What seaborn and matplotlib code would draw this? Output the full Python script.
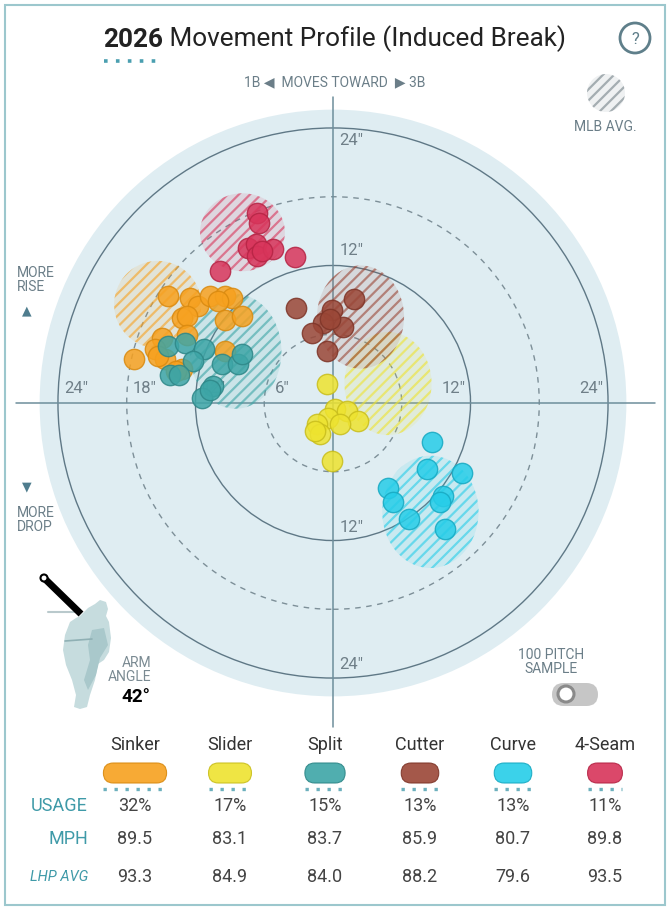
import matplotlib
matplotlib.use("Agg")
import matplotlib.pyplot as plt
from matplotlib.patches import Circle, Ellipse, FancyBboxPatch, Rectangle, Polygon
from matplotlib.colors import to_rgb
import pandas as pd
import seaborn as sns

sns.set_theme(style="white")
plt.rcParams['font.family'] = ['Roboto', 'DejaVu Sans']
plt.rcParams['hatch.linewidth'] = 1.6

# ---- data (inches of induced break; x = horizontal, y = vertical) ----
pitches = ["Sinker", "Slider", "Split", "Cutter", "Curve", "4-Seam"]
colors = ["#F7A11F", "#EEE32F", "#3DA5A6", "#9A4636", "#26CDE8", "#D8345A"]
edges = ["#D98A10", "#C9BE1C", "#2E8788", "#7E3528", "#17A9C2", "#B52444"]
usage = [32, 17, 15, 13, 13, 11]
mph = [89.5, 83.1, 83.7, 85.9, 80.7, 89.8]
lhp_avg = [93.3, 84.9, 84.0, 88.2, 79.6, 93.5]

sinker_x = [-14.4, -12.5, -11.8, -10.7, -9.4, -8.8, -10.0, -13.2, -12.7, -9.4,
            -7.9, -14.9, -12.7, -15.5, -14.7, -9.4, -13.2, -17.4, -15.3, -13.7]
sinker_y = [9.3, 9.2, 8.5, 9.3, 9.3, 9.2, 8.9, 7.4, 7.6, 7.2,
            7.6, 5.7, 5.9, 4.7, 3.8, 4.5, 3.0, 3.8, 4.1, 2.8]
split_x = [-14.4, -12.9, -11.3, -12.2, -9.7, -8.3, -7.9, -14.2, -13.4, -10.5, -11.4, -10.7]
split_y = [5.0, 5.2, 4.7, 3.7, 3.4, 3.4, 4.3, 2.4, 2.4, 1.5, 0.4, 1.1]
fourseam_x = [-6.6, -6.5, -7.4, -6.7, -6.6, -5.2, -3.3, -9.9, -6.2]
fourseam_y = [16.6, 15.7, 13.5, 13.9, 12.8, 13.4, 12.7, 11.5, 13.3]
cutter_x = [-3.2, 1.8, -0.1, -0.9, -1.8, 0.9, -0.5, -0.3]
cutter_y = [8.3, 9.1, 8.1, 7.0, 6.1, 6.6, 4.5, 7.3]
slider_x = [-0.5, 0.2, 1.2, 2.2, -0.4, 0.6, -1.4, -1.1, -0.1, -1.6]
slider_y = [1.7, -0.5, -0.7, -1.6, -1.3, -1.8, -1.8, -2.7, -5.1, -2.4]
curve_x = [8.6, 8.2, 11.3, 4.8, 5.2, 9.6, 9.3, 6.6, 9.8]
curve_y = [-3.4, -5.8, -6.1, -7.4, -8.6, -8.1, -8.6, -10.1, -11.0]

# MLB average per pitch (same order as pitches): centre and half-spread
mlb_x = [-15.3, 4.8, -8.5, 2.4, 8.5, -7.9]
mlb_y = [8.6, 1.7, 4.5, 7.5, -9.5, 14.9]
mlb_wx = [3.8, 3.8, 4.0, 3.8, 4.2, 3.7]
mlb_wy = [3.8, 4.5, 5.0, 4.5, 4.9, 3.4]

rings = [6, 12, 18, 24]

# ---- figure / coordinate helpers ----
W, H = 670, 909
CX, CY = 333, 403
PPI = 11.46  # pixels per inch of break


def P(x, y):
    return ((x - CX) / PPI, (CY - y) / PPI)


fig = plt.figure(figsize=(W / 100, H / 100), dpi=100)
ax = fig.add_axes([0, 0, 1, 1])
ax.set_axis_off()

grey = "#6b7e88"
teal = "#3f9aa8"

# frame
ax.add_patch(Rectangle(P(5, 905), 660 / PPI, 900 / PPI, fill=False,
                       edgecolor="#9cc7cd", lw=1.5, zorder=1))

# background disk and rings
ax.add_patch(Circle((0, 0), 25.6, color="#dfedf2", lw=0, zorder=1))
for r in rings:
    ls = "-" if r % 12 == 0 else (0, (4, 4))
    c = "#5f7886" if r % 12 == 0 else "#7d8f98"
    ax.add_patch(Circle((0, 0), r, fill=False, edgecolor=c, lw=1.0, ls=ls, zorder=2))

# axis lines
ax.plot([P(16, 0)[0], P(655, 0)[0]], [0, 0], color="#6d8e9b", lw=1.1, zorder=2)
ax.plot([0, 0], [P(0, 97)[1], P(0, 727)[1]], color="#6d8e9b", lw=1.1, zorder=2)

# ring labels
lab = dict(color="#6f7f88", size=12, va="center", zorder=3)
for r in [24, 18, 12, 6]:
    ax.text(-r + 1.6, 1.25, f'{r}"', ha="center", **lab)
for r in [12, 24]:
    ax.text(r - 1.45, 1.25, f'{r}"', ha="center", **lab)
ax.text(1.6, 22.9, '24"', ha="center", **lab)
ax.text(1.6, 13.3, '12"', ha="center", **lab)
ax.text(1.6, -10.9, '12"', ha="center", **lab)
ax.text(1.6, -22.8, '24"', ha="center", **lab)

# MLB average hatched blobs
for mx, my, wx, wy, c in zip(mlb_x, mlb_y, mlb_wx, mlb_wy, colors):
    rgb = to_rgb(c)
    ax.add_patch(Ellipse((mx, my), 2 * wx, 2 * wy, facecolor=(*rgb, 0.12),
                         edgecolor=(*rgb, 0.6), lw=0, hatch="///", zorder=4))

# pitches
pitch_x = [sinker_x, slider_x, split_x, cutter_x, curve_x, fourseam_x]
pitch_y = [sinker_y, slider_y, split_y, cutter_y, curve_y, fourseam_y]
frames = []
for name, xs, ys in zip(pitches, pitch_x, pitch_y):
    frames.append(pd.DataFrame({"pitch": name, "hb": xs, "ivb": ys}))
df = pd.concat(frames, ignore_index=True)

draw_order = ["Sinker", "Split", "4-Seam", "Cutter", "Slider", "Curve"]
for name in draw_order:
    i = pitches.index(name)
    sub = df[df.pitch == name]
    sns.scatterplot(data=sub, x="hb", y="ivb", color=colors[i], edgecolor=edges[i],
                    s=215, alpha=0.85, linewidth=1.0, ax=ax, zorder=5, legend=False)

# ---- title ----
t1 = ax.text(*P(103, 40), "2026", size=18.8, weight="bold", color="#222222",
             ha="left", va="center", zorder=6)
ax.annotate(" Movement Profile (Induced Break)", xy=(1, 0), xycoords=t1,
            size=18.8, color="#222222", ha="left", va="bottom")
ax.plot([P(104, 0)[0], P(162, 0)[0]], [P(0, 61)[1]] * 2, color="#4a9fb0",
        lw=2.6, ls=(0, (1.0, 2.3)), zorder=6)
ax.add_patch(Circle(P(635, 38), 15 / PPI, fill=False, edgecolor="#5f7f8a", lw=2, zorder=6))
ax.text(*P(635, 39), "?", size=12, color="#5f7f8a", ha="center", va="center")

ax.text(*P(335, 82), "1B \u25C0  MOVES TOWARD  \u25B6 3B", size=10, color=grey,
        ha="center", va="center")

# MLB avg legend icon
ax.add_patch(Circle(P(606, 93), 19 / PPI, facecolor=(0.6, 0.65, 0.68, 0.15),
                    edgecolor=(0.45, 0.5, 0.53, 0.6), lw=0, hatch="///", zorder=4))
ax.text(*P(605, 127), "MLB AVG.", size=10, color=grey, ha="center", va="center")

# rise / drop
ax.text(*P(17, 280), "MORE\nRISE", size=10, color=grey, ha="left", va="center",
        linespacing=1.0)
ax.text(*P(27, 311), "\u25B2", size=9, color="#4f7d8e", ha="center", va="center")
ax.text(*P(27, 487), "\u25BC", size=9, color="#4f7d8e", ha="center", va="center")
ax.text(*P(17, 520), "MORE\nDROP", size=10, color=grey, ha="left", va="center",
        linespacing=1.0)

# pitcher silhouette
body = [(80, 616), (88, 608), (95, 604), (100, 600), (106, 602), (108, 609),
        (106, 616), (109, 622), (111, 638), (109, 652), (104, 660), (98, 664),
        (95, 680), (90, 695), (87, 707), (80, 709), (74, 707), (76, 695),
        (72, 680), (66, 665), (63, 650), (65, 635), (70, 622), (76, 618)]
ax.add_patch(Polygon([P(x, y) for x, y in body], closed=True, color="#c6dcde",
                     lw=0, zorder=3))
shade = [(92, 630), (104, 628), (108, 645), (100, 658), (96, 675), (88, 690),
         (84, 680), (90, 660), (88, 645)]
ax.add_patch(Polygon([P(x, y) for x, y in shade], closed=True, color="#a9c8cb",
                     lw=0, zorder=3))
ax.plot([P(65, 0)[0], P(92, 0)[0]], [P(0, 641)[1], P(0, 639)[1]], color="#8fb0b4",
        lw=1.2, zorder=3)
ax.plot([P(48, 0)[0], P(76, 0)[0]], [P(0, 612)[1]] * 2, color="#b9c9cc", lw=1.5, zorder=3)
ax.plot([P(44, 0)[0], P(81, 0)[0]], [P(0, 578)[1], P(0, 614)[1]], color="black",
        lw=5, solid_capstyle="butt", zorder=4)
ax.add_patch(Circle(P(44, 578), 3.5 / PPI, facecolor="white", edgecolor="black", lw=1.5, zorder=5))
ax.text(*P(151, 670), "ARM\nANGLE", size=10, color="#7a8a92", ha="right", va="center",
        linespacing=1.0)
ax.text(*P(150, 697), "42°", size=13.5, weight="bold", color="black", ha="right", va="center")

# sample toggle
ax.text(*P(551, 662), "100 PITCH\nSAMPLE", size=10, color=grey, ha="center",
        va="center", linespacing=1.0)
tw, th = 46 / PPI, 23 / PPI
ax.add_patch(FancyBboxPatch(P(552, 706), tw, th, boxstyle=f"round,pad=0,rounding_size={th / 2}",
                            facecolor="#c6c6c6", edgecolor="none", zorder=4))
ax.add_patch(Circle(P(566, 694), 8 / PPI, facecolor="white", edgecolor="#8a8a8a", lw=2.2, zorder=5))

# ---- table ----
col_x = [135, 230, 325, 420, 513, 605]
for i, name in enumerate(pitches):
    cx = col_x[i]
    ax.text(*P(cx, 745), name, size=13, color="#333333", ha="center", va="center")
    sw = 20 + 1.35 * usage[i]
    sh = 20
    ax.add_patch(FancyBboxPatch(P(cx - sw / 2, 783), sw / PPI, sh / PPI,
                                boxstyle=f"round,pad=0,rounding_size={sh / 2 / PPI}",
                                facecolor=colors[i], edgecolor=edges[i], lw=0.8,
                                alpha=0.9, zorder=4))
    ax.plot([P(cx - sw / 2, 0)[0], P(cx + sw / 2, 0)[0]], [P(0, 789)[1]] * 2,
            color="#6cb0bd", lw=2.4, ls=(0, (1.0, 2.3)), zorder=4)
    ax.text(*P(cx, 806), f"{usage[i]}%", size=13, color="#444444", ha="center", va="center")
    ax.text(*P(cx, 839), f"{mph[i]:.1f}", size=13, color="#444444", ha="center", va="center")
    ax.text(*P(cx, 877), f"{lhp_avg[i]:.1f}", size=13, color="#444444", ha="center", va="center")

ax.text(*P(88, 806), "USAGE", size=13, color=teal, ha="right", va="center")
ax.text(*P(88, 839), "MPH", size=13, color=teal, ha="right", va="center")
ax.text(*P(88, 877), "LHP AVG", size=10.5, style="italic", color=teal, ha="right", va="center")

ax.set_xlim(-CX / PPI, (W - CX) / PPI)
ax.set_ylim(-(H - CY) / PPI, CY / PPI)

fig.savefig("out.png", dpi=100, facecolor="white")
